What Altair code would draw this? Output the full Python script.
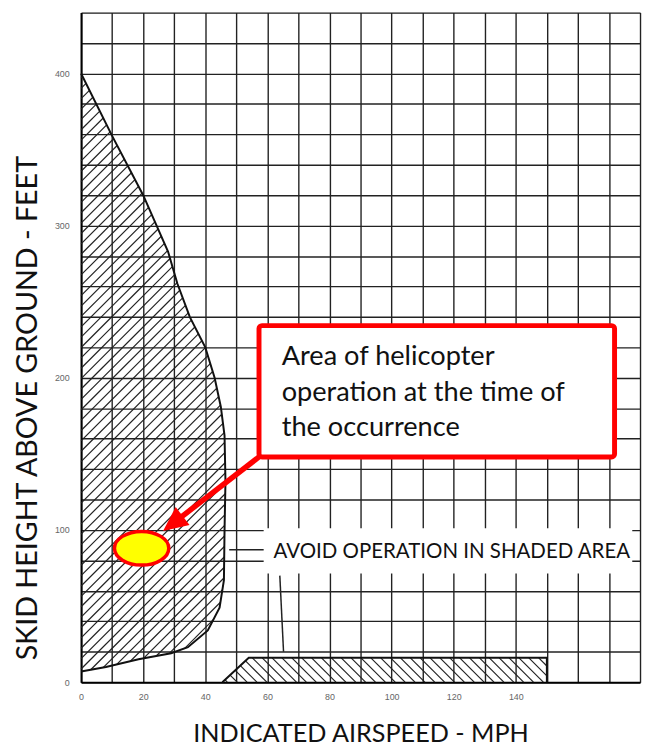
import altair as alt
import pandas as pd
import math

# ---------------- data ----------------
curve_speed = [0, 10, 20, 28, 31, 35, 40, 43, 45, 46.2, 46.5, 46.2, 46, 44.6, 40.8, 34.4, 29, 18.5, 8, 0]
curve_height = [400, 359, 320, 283, 262, 240, 220, 200, 181, 162, 132, 100, 67, 49, 34, 23, 19, 15, 10, 7]

low_speed = [45.5, 54, 150, 150]
low_height = [0, 16, 16, 0]

ellipse_speed = [19.5]
ellipse_height = [88]

box_speed = [57.3, 171.8]
box_height = [148, 234.3]
callout_lines = ["Area of helicopter", "operation at the time of", "the occurrence"]
callout_pos = [64.6, 208.3]

arrow_start = [57.3, 148]
arrow_tip = [26.4, 99.3]

avoid_text = "AVOID OPERATION IN SHADED AREA"
avoid_box_speed = [58.8, 177.5]
avoid_box_height = [71.4, 101.2]
avoid_text_pos = [62.0, 81.8]

leader1_speed = [47.7, 58.8]
leader1_height = [87, 87]
leader2_speed = [64, 65.2]
leader2_height = [70, 20]

x_ticks = list(range(0, 181, 10))
y_ticks = list(range(0, 441, 20))

X_TITLE = "INDICATED AIRSPEED - MPH"
Y_TITLE = "SKID HEIGHT ABOVE GROUND - FEET"

# ---------------- layout ----------------
W, H = 566, 678
XMAX, YMAX = 180, 440
sx, sy = W / XMAX, H / YMAX


def hatch(xs, ys, direction, step_px):
    P = [(x * sx, y * sy) for x, y in zip(xs, ys)]
    n = (-1.0, 1.0) if direction == "/" else (1.0, 1.0)
    vals = [n[0] * p[0] + n[1] * p[1] for p in P]
    cmin, cmax = min(vals), max(vals)
    segs = []
    c = cmin + step_px * 0.5
    while c < cmax:
        pts = []
        for i in range(len(P)):
            A, B = P[i], P[(i + 1) % len(P)]
            fA = n[0] * A[0] + n[1] * A[1] - c
            fB = n[0] * B[0] + n[1] * B[1] - c
            if (fA > 0) != (fB > 0):
                t = fA / (fA - fB)
                pts.append((A[0] + t * (B[0] - A[0]), A[1] + t * (B[1] - A[1])))
        pts.sort()
        for k in range(0, len(pts) - 1, 2):
            a, b = pts[k], pts[k + 1]
            segs.append({"x": a[0] / sx, "y": a[1] / sy, "x2": b[0] / sx, "y2": b[1] / sy})
        c += step_px
    return segs


hatch_df = pd.DataFrame(
    hatch(curve_speed, curve_height, "/", 10.5) + hatch(low_speed, low_height, "\\", 10.0)
)

xscale = alt.Scale(domain=[0, XMAX], nice=False, zero=False)
yscale = alt.Scale(domain=[0, YMAX], nice=False, zero=False)

xaxis = alt.Axis(
    values=x_ticks,
    labelExpr="datum.value % 20 == 0 && datum.value <= 140 ? datum.label : ''",
    grid=True, gridColor="#222", gridWidth=1.4,
    ticks=False, domain=True, domainColor="#000", domainWidth=2,
    labelFont="Liberation Sans", labelFontSize=9, labelColor="#666",
    labelPadding=11, labelFlush=False, labelOverlap=False,
    titleFont="Lato", titleFontSize=25.5, titleFontWeight="normal", titleColor="#111",
    titleX=283, titleY=60, titleBaseline="alphabetic", titleAlign="center",
)
yaxis = alt.Axis(
    values=y_ticks,
    labelExpr="datum.value % 100 == 0 && datum.value <= 400 ? datum.label : ''",
    grid=True, gridColor="#222", gridWidth=1.4,
    ticks=False, domain=True, domainColor="#000", domainWidth=2,
    labelFont="Liberation Sans", labelFontSize=9, labelColor="#666",
    labelPadding=12, labelFlush=False, labelOverlap=False,
    titleFont="Lato", titleFontSize=29, titleFontWeight="normal", titleColor="#111",
    titleAngle=270, titleX=-45, titleY=400, titleBaseline="alphabetic", titleAlign="center",
)


def X(f="x"):
    return alt.X(f"{f}:Q", scale=xscale, axis=xaxis, title=X_TITLE)


def Y(f="y"):
    return alt.Y(f"{f}:Q", scale=yscale, axis=yaxis, title=Y_TITLE)


# white background behind the "avoid" caption
avoid_box_df = pd.DataFrame({"x": [avoid_box_speed[0]], "x2": [avoid_box_speed[1]],
                             "y": [avoid_box_height[0]], "y2": [avoid_box_height[1]]})
avoid_box = alt.Chart(avoid_box_df).mark_rect(fill="white", stroke=None).encode(
    x=X(), x2="x2:Q", y=Y(), y2="y2:Q")

hatch_layer = alt.Chart(hatch_df).mark_rule(color="#222", strokeWidth=1.2).encode(
    x=X(), y=Y(), x2="x2:Q", y2="y2:Q")

curve_df = pd.DataFrame({"x": curve_speed, "y": curve_height, "i": range(len(curve_speed))})
curve = alt.Chart(curve_df).mark_line(color="#111", strokeWidth=2).encode(
    x=X(), y=Y(), order="i:Q")

low_df = pd.DataFrame({"x": low_speed, "y": low_height, "i": range(len(low_speed))})
low = alt.Chart(low_df).mark_line(color="#111", strokeWidth=2).encode(
    x=X(), y=Y(), order="i:Q")

lead_df = pd.DataFrame({
    "x": [leader1_speed[0], leader2_speed[0]], "x2": [leader1_speed[1], leader2_speed[1]],
    "y": [leader1_height[0], leader2_height[0]], "y2": [leader1_height[1], leader2_height[1]],
})
leaders = alt.Chart(lead_df).mark_rule(color="#222", strokeWidth=1.5).encode(
    x=X(), y=Y(), x2="x2:Q", y2="y2:Q")

avoid_df = pd.DataFrame({"x": [avoid_text_pos[0]], "y": [avoid_text_pos[1]], "t": [avoid_text]})
avoid = alt.Chart(avoid_df).mark_text(
    align="left", baseline="alphabetic", font="Lato", fontSize=20.7, color="#111"
).encode(x=X(), y=Y(), text="t:N")

box_df = pd.DataFrame({"x": [box_speed[0]], "x2": [box_speed[1]],
                       "y": [box_height[0]], "y2": [box_height[1]]})
box = alt.Chart(box_df).mark_rect(fill="white", stroke="#ff0000", strokeWidth=5,
                                  cornerRadius=3).encode(x=X(), x2="x2:Q", y=Y(), y2="y2:Q")

callout_df = pd.DataFrame({"x": [callout_pos[0]], "y": [callout_pos[1]],
                           "t": ["\n".join(callout_lines)]})
callout = alt.Chart(callout_df).mark_text(
    align="left", baseline="alphabetic", font="Lato", fontSize=27.5, lineHeight=36,
    lineBreak="\n", color="#111"
).encode(x=X(), y=Y(), text="t:N")

# arrow: shaft stops a little short of the tip, head drawn as a symbol
dxp = (arrow_start[0] - arrow_tip[0]) * sx
dyp = (arrow_start[1] - arrow_tip[1]) * sy
L = (dxp ** 2 + dyp ** 2) ** 0.5
back = 14.0 / L
shaft_end = [arrow_tip[0] + (arrow_start[0] - arrow_tip[0]) * back,
             arrow_tip[1] + (arrow_start[1] - arrow_tip[1]) * back]
shaft_df = pd.DataFrame({"x": [arrow_start[0]], "y": [arrow_start[1]],
                         "x2": [shaft_end[0]], "y2": [shaft_end[1]]})
shaft = alt.Chart(shaft_df).mark_rule(color="#ff0000", strokeWidth=5.5).encode(
    x=X(), y=Y(), x2="x2:Q", y2="y2:Q")

ang = math.degrees(math.atan2(-dxp, -dyp)) % 360  # clockwise from up, screen coords
head_df = pd.DataFrame({"x": [arrow_tip[0]], "y": [arrow_tip[1]]})
head = alt.Chart(head_df).mark_point(
    shape="M 0 0 L 0.46 1 L -0.46 1 Z", size=2500, filled=True, color="#ff0000",
    opacity=1, angle=ang, strokeWidth=0
).encode(x=X(), y=Y())

ell_df = pd.DataFrame({"x": ellipse_speed, "y": ellipse_height})
ellipse = alt.Chart(ell_df).mark_point(
    shape="M -1 0 A 1 0.62 0 1 1 1 0 A 1 0.62 0 1 1 -1 0 Z", size=3025,
    filled=True, fill="#ffff00", stroke="#ff0000", strokeWidth=3.5, opacity=1,
    fillOpacity=1, strokeOpacity=1
).encode(x=X(), y=Y())

chart = alt.layer(
    avoid_box, hatch_layer, curve, low, leaders, avoid, shaft, head, ellipse, box, callout
).properties(
    width=W, height=H,
    autosize=alt.AutoSizeParams(type="none"),
    padding={"left": 74, "top": 0, "right": 2, "bottom": 62},
).configure_view(stroke="#000", strokeWidth=1.5).configure(background="white")

chart.save("out.html", embed_options={"renderer": "svg", "actions": False})
